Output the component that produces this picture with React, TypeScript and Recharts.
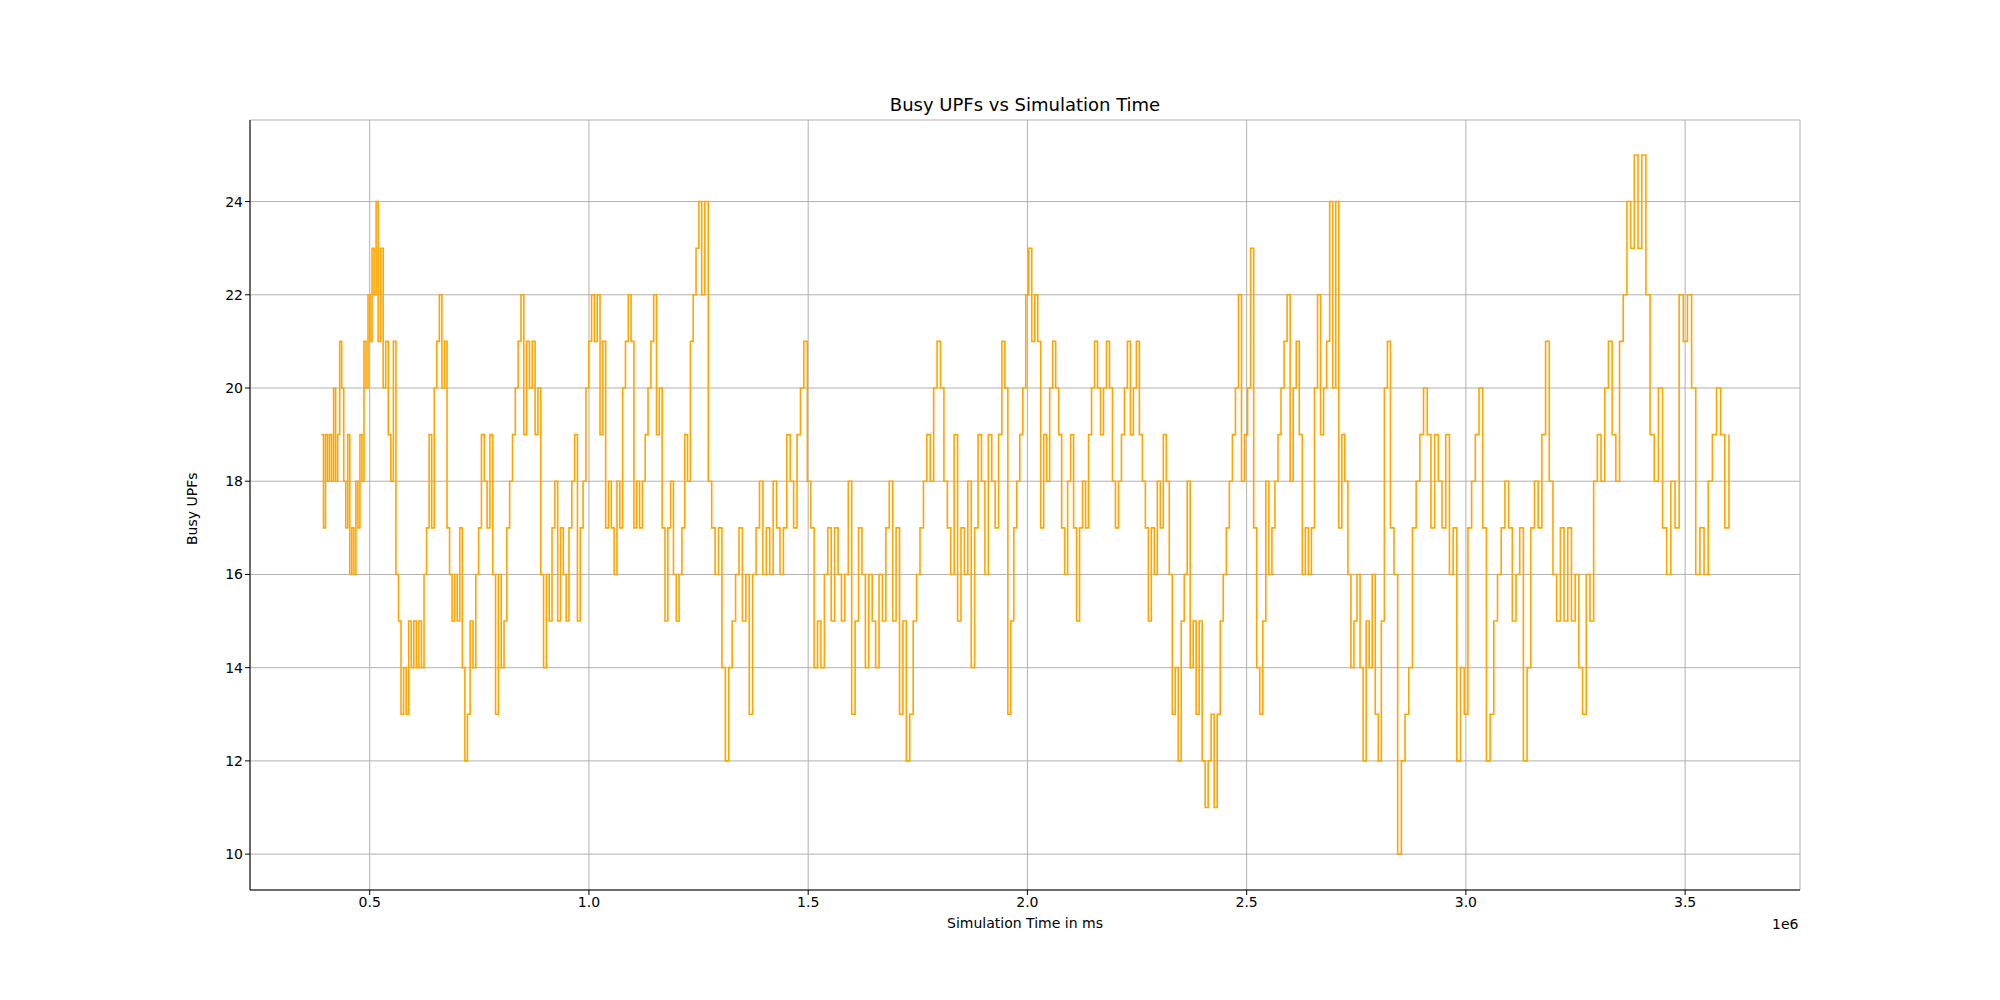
import React from 'react';
import { LineChart, Line, XAxis, YAxis, CartesianGrid } from 'recharts';

// Busy UPF counts, in time order
const busyUpfs = [
  19,17,19,18,19,18,20,18,19,21,20,18,17,19,16,17,16,18,17,19,18,21,20,22,21,23,22,24,21,23,20,21,19,18,21,16,15,13,14,13,
  15,14,15,14,15,14,16,17,19,17,20,21,22,20,21,17,16,15,16,15,17,14,12,13,15,14,16,17,19,18,17,19,16,13,16,14,15,17,18,19,
  20,21,22,19,21,20,21,19,20,16,14,16,15,17,18,15,17,16,15,17,18,19,15,17,18,20,21,22,21,22,19,21,17,18,17,16,18,17,20,21,
  22,21,17,18,17,18,19,20,21,22,19,20,17,15,17,18,16,15,16,17,19,18,21,22,23,24,22,24,18,17,16,17,14,12,14,15,16,17,15,16,
  13,16,17,18,16,17,16,18,17,16,17,19,18,17,19,20,21,18,17,14,15,14,16,17,15,17,16,15,16,18,13,15,17,16,14,16,15,14,16,15,
  17,18,15,17,13,15,12,13,15,16,17,18,19,18,20,21,20,18,17,16,19,15,17,16,18,14,17,19,18,16,19,18,17,19,21,20,13,15,17,18,
  19,20,22,23,21,22,21,17,19,18,20,21,20,19,17,16,18,19,17,15,17,18,17,19,20,21,20,19,20,21,20,18,17,18,19,20,21,19,20,21,
  19,18,17,15,17,16,18,17,19,18,16,13,14,12,15,16,18,14,15,13,15,12,11,12,13,11,13,15,16,17,18,19,20,22,18,19,20,23,17,14,
  13,15,18,16,17,18,19,20,21,22,18,20,21,19,16,17,16,17,20,22,19,20,21,24,20,24,17,19,18,16,14,15,16,14,12,15,14,16,13,12,
  15,20,21,17,16,10,12,13,14,17,18,19,20,19,17,19,18,17,19,16,17,12,14,13,17,18,19,20,17,12,13,15,16,17,18,17,15,16,17,12,
  14,17,18,17,19,21,18,16,15,17,15,17,15,16,14,13,16,15,18,19,18,20,21,19,18,21,22,24,23,25,23,25,22,19,18,20,17,16,18,17,
  22,21,22,20,16,17,16,18,19,20,19,17,19,
];
const startMs = 390000;
const endMs = 3600000;
// time anchors (even-spacing time -> time) to place samples
const anchorFrom = [390000, 590000, 840000, 1430000, 2050000, 2550000, 2970000, 3450000, 3600000];
const anchorTo = [390000, 520000, 725000, 1260000, 1940000, 2420000, 2830000, 3400000, 3600000];
const xTicks = [500000, 1000000, 1500000, 2000000, 2500000, 3000000, 3500000];
const yTicks = [10, 12, 14, 16, 18, 20, 22, 24];

const warp = (m: number) => {
  for (let k = 0; k < anchorFrom.length - 1; k++) {
    if (m <= anchorFrom[k + 1]) {
      const f = (m - anchorFrom[k]) / (anchorFrom[k + 1] - anchorFrom[k]);
      return anchorTo[k] + f * (anchorTo[k + 1] - anchorTo[k]);
    }
  }
  return m;
};

const data = busyUpfs.map((v, i) => ({
  t: warp(startMs + (i * (endMs - startMs)) / (busyUpfs.length - 1)),
  v,
}));

const font = 'DejaVu Sans, sans-serif';

export default function App() {
  return (
    <div style={{ position: 'absolute', left: 0, top: 0, width: 2000, height: 1000, background: '#fff', fontFamily: font }}>
      <div style={{ position: 'absolute', top: 94, left: 250, width: 1550, textAlign: 'center', fontSize: 18, color: '#000' }}>
        Busy UPFs vs Simulation Time
      </div>
      <LineChart width={2000} height={1000} data={data} margin={{ top: 120, right: 200, bottom: 60, left: 180 }}>
        <CartesianGrid stroke="#b0b0b0" strokeWidth={1} />
        <XAxis
          dataKey="t"
          type="number"
          domain={[227000, 3762000]}
          ticks={xTicks}
          tickFormatter={(v: number) => (v / 1e6).toFixed(1)}
          stroke="#000"
          tick={{ fill: '#000', fontSize: 14, fontFamily: font }}
          tickSize={5}
          height={50}
          allowDataOverflow
          label={{ value: 'Simulation Time in ms', position: 'insideBottom', offset: 12, fill: '#000', fontSize: 14, fontFamily: font }}
        />
        <XAxis xAxisId="top" orientation="top" dataKey="t" type="number" domain={[227000, 3762000]} tick={false} tickLine={false} stroke="#000" height={0} />
        <YAxis
          type="number"
          domain={[9.23, 25.75]}
          ticks={yTicks}
          stroke="#000"
          tick={{ fill: '#000', fontSize: 14, fontFamily: font }}
          tickSize={5}
          width={70}
          allowDataOverflow
          label={{ value: 'Busy UPFs', angle: -90, position: 'insideLeft', offset: 12, fill: '#000', fontSize: 14, fontFamily: font, dy: 40 }}
        />
        <YAxis yAxisId="right" orientation="right" domain={[9.23, 25.75]} tick={false} tickLine={false} stroke="#000" width={0} />
        <Line type="stepAfter" dataKey="v" stroke="#FFA500" strokeWidth={1.6} dot={false} isAnimationActive={false} />
      </LineChart>
      <div style={{ position: 'absolute', left: 1772, top: 916, fontSize: 14, color: '#000' }}>1e6</div>
    </div>
  );
}
